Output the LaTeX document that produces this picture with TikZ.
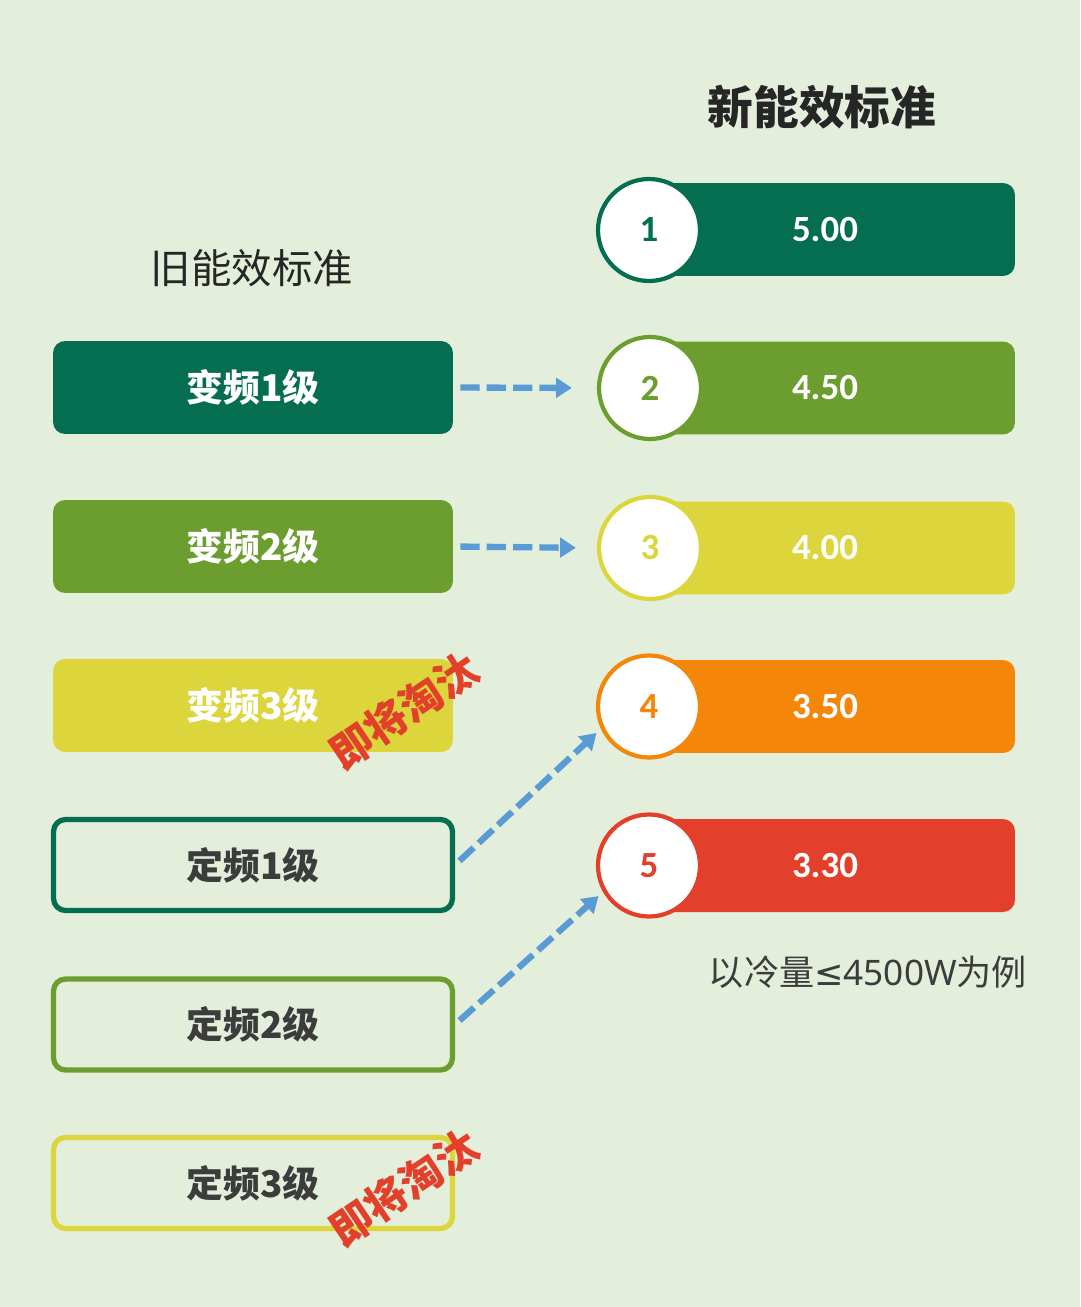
\documentclass[tikz,border=0pt]{standalone}
\usepackage{fontspec}
\setmainfont{Noto Sans CJK SC}
\newfontfamily\numfont{Carlito}
\newfontfamily\latinfont{Noto Sans}
\newfontfamily\mathsymfont{DejaVu Sans}
\usepackage{xcolor}
\usetikzlibrary{arrows.meta}
\definecolor{bgmint}{RGB}{227,239,219}
\definecolor{deepgreen}{RGB}{5,110,80}
\definecolor{leafgreen}{RGB}{107,158,47}
\definecolor{lemon}{RGB}{220,213,60}
\definecolor{amber}{RGB}{244,135,10}
\definecolor{tomato}{RGB}{226,64,42}
\definecolor{skyblue}{RGB}{91,155,213}
\definecolor{inkgray}{RGB}{60,60,60}

\begin{document}
\begin{tikzpicture}[x=0.02cm,y=-0.02cm,
    oldbox/.style={fill=#1,rounded corners=0.24cm,minimum width=8cm,minimum height=1.86cm,
        text=white,font=\bfseries\fontsize{21}{21}\selectfont},
    fixbox/.style={draw=#1,line width=3pt,rounded corners=0.24cm,minimum width=7.98cm,
        minimum height=1.82cm,text=inkgray,font=\bfseries\fontsize{21}{21}\selectfont},
    levelbar/.style={fill=#1,rounded corners=0.24cm,minimum width=7.6cm,minimum height=1.86cm,
        text=white,font=\numfont\bfseries\fontsize{21}{21}\selectfont},
    grade/.style={circle,draw=#1,fill=white,line width=2.4pt,minimum size=2.04cm,inner sep=0pt,
        text=#1,font=\numfont\bfseries\fontsize{21}{21}\selectfont},
    upgrade/.style={draw=skyblue,line width=3.6pt,dash pattern=on 11pt off 4pt,
        -{Triangle[length=9pt,width=11pt]}},
    stamp/.style={text=tomato,rotate=34,font=\bfseries\fontsize{24}{24}\selectfont}]

    % background
    \fill[bgmint] (0,0) rectangle (1080,1307);
    \useasboundingbox (0,0) rectangle (1080,1307);

    % titles
    \node[font=\bfseries\fontsize{26}{26}\selectfont,text=black!85] (newtitle) at (822,107) {新能效标准};
    \node[font=\fontsize{23}{23}\selectfont,text=black!85] (oldtitle) at (252,268) {旧能效标准};

    % old standard (left)
    \node[oldbox=deepgreen] (v1) at (253,387.5) {变频1级};
    \node[oldbox=leafgreen] (v2) at (253,546.5) {变频2级};
    \node[oldbox=lemon] (v3) at (253,705.5) {变频3级};
    \node[fixbox=deepgreen] (d1) at (253,865) {定频1级};
    \node[fixbox=leafgreen] (d2) at (253,1024.5) {定频2级};
    \node[fixbox=lemon] (d3) at (253,1183) {定频3级};

    % phased out
    \node[stamp] (out1) at (404,711) {即将淘汰};
    \node[stamp] (out2) at (404,1188) {即将淘汰};

    % new standard (right)
    \node[levelbar=deepgreen] (b1) at (825,229.5) {5.00};
    \node[levelbar=leafgreen] (b2) at (825,388) {4.50};
    \node[levelbar=lemon] (b3) at (825,548) {4.00};
    \node[levelbar=amber] (b4) at (825,706.5) {3.50};
    \node[levelbar=tomato] (b5) at (825,865.5) {3.30};

    \node[grade=deepgreen] (c1) at (649,230) {1};
    \node[grade=leafgreen] (c2) at (650,388) {2};
    \node[grade=lemon] (c3) at (650,548) {3};
    \node[grade=amber] (c4) at (649,706.5) {4};
    \node[grade=tomato] (c5) at (649,865.5) {5};

    \node[font=\fontsize{20}{20}\selectfont,text=inkgray] (note) at (868,972)
        {以冷量{\mathsymfont ≤}{\latinfont 4500W}为例};

    % mapping
    \draw[upgrade,shorten <=0.14cm,shorten >=0.5cm] (v1.east) -- (c2.west);
    \draw[upgrade,shorten <=0.14cm,shorten >=0.42cm] (v2.east) -- (c3.west);
    \draw[upgrade,shorten <=0.12cm,shorten >=0.12cm] (d1.east) -- (c4.205);
    \draw[upgrade,shorten <=0.12cm,shorten >=0.12cm] (d2.east) -- (c5.210);
\end{tikzpicture}
\end{document}
